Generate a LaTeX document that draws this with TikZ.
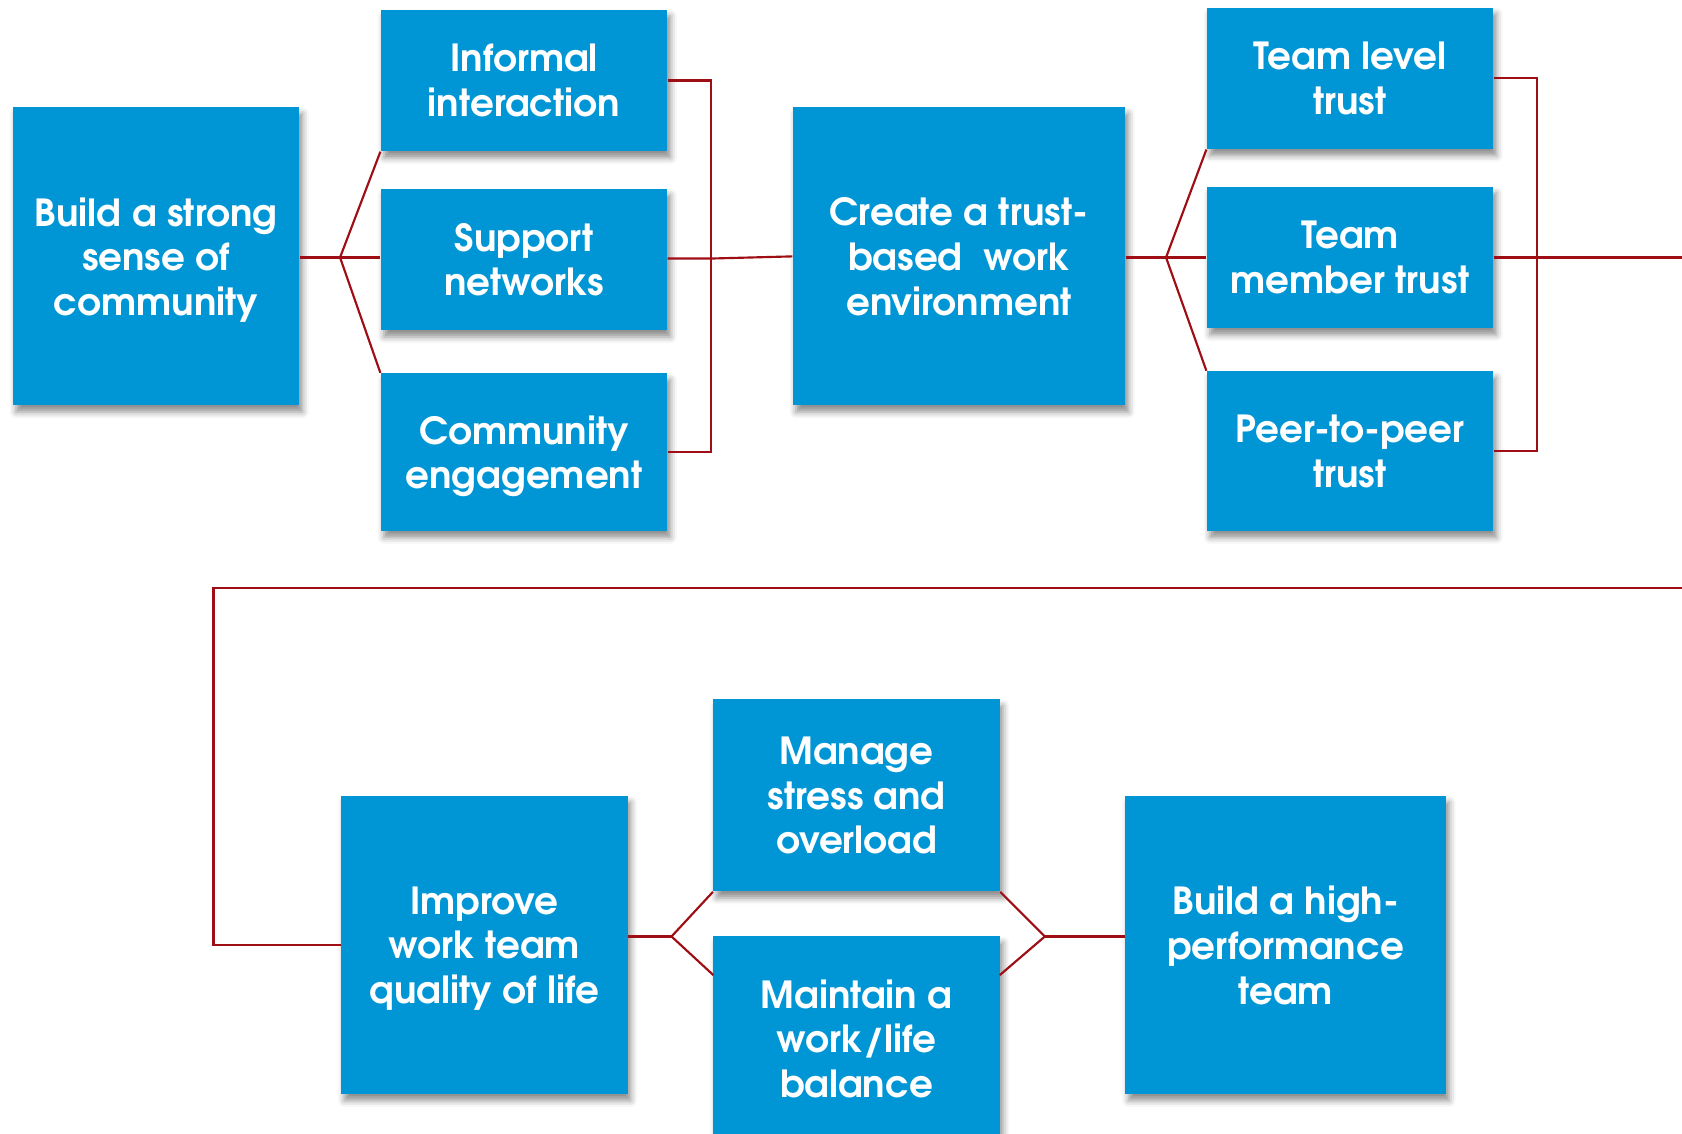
\documentclass[tikz,border=0pt]{standalone}
\usepackage{fontspec}
\setmainfont{TeX Gyre Adventor}
\usetikzlibrary{shadows.blur}
\definecolor{boxblue}{RGB}{0,150,214}
\definecolor{linered}{RGB}{158,14,20}
\tikzset{
  box/.style={fill=boxblue, text=white, align=center, inner sep=0pt, text depth=-2pt,
    font=\fontsize{17.4}{20.8}\selectfont\bfseries,
    blur shadow={shadow xshift=1.5pt, shadow yshift=-3pt, shadow blur radius=3pt, shadow opacity=45}},
  link/.style={draw=linered, line width=1pt}
}
\begin{document}
\begin{tikzpicture}[x=0.5pt, y=-0.5pt]
\useasboundingbox (0,0) rectangle (1568,1057);
\clip (0,0) rectangle (1568,1057);
% top row
\node[box, minimum width=133.5pt, minimum height=139pt] (b1) at (145.5,239) {Build a strong\\sense of\\community};
\node[box, minimum width=133.5pt, minimum height=66pt] (ii) at (488.5,75) {Informal\\interaction};
\node[box, minimum width=133.5pt, minimum height=66pt] (sn) at (488.5,242) {Support\\networks};
\node[box, minimum width=133.5pt, minimum height=73.5pt] (ce) at (488.5,421.5) {Community\\engagement};
\node[box, minimum width=155pt, minimum height=139pt] (ct) at (894,239) {Create a trust-\\based\ \ work\\environment};
\node[box, minimum width=133.5pt, minimum height=66pt] (tl) at (1258.5,73) {Team level\\trust};
\node[box, minimum width=133.5pt, minimum height=66pt] (tm) at (1258.5,240) {Team\\member trust};
\node[box, minimum width=133.5pt, minimum height=74.5pt] (pp) at (1258.5,420.5) {Peer-to-peer\\trust};
% bottom row
\node[box, minimum width=133.5pt, minimum height=139pt] (iq) at (451.5,881) {Improve\\work team\\quality of life};
\node[box, minimum width=133.5pt, minimum height=89.5pt] (ms) at (798.5,741.5) {Manage\\stress and\\overload};
\node[box, minimum width=133.5pt, minimum height=95pt] (mw) at (798.5,968) {Maintain a\\work/life\\balance};
\node[box, minimum width=149.5pt, minimum height=139pt] (hp) at (1198.5,881) {Build a high-\\performance\\team};
% coordinates
\coordinate (f1) at (317,240);
\coordinate (j1) at (663,241);
\coordinate (f2) at (1087,240);
\coordinate (j2) at (1433,240);
\coordinate (o1) at (1600,240);
\coordinate (o2) at (1600,548);
\coordinate (c1) at (199,548);
\coordinate (f3) at (626,873);
\coordinate (m2) at (665,909);
\coordinate (m3) at (932,909);
\coordinate (f4) at (974,873);
% connectors
\draw[link] (b1.east |- f1) -- (f1);
\draw[link] (f1) -- (ii.south west);
\draw[link] (f1) -- (sn.west |- f1);
\draw[link] (f1) -- (ce.north west);
\draw[link] (ii.east) -| (j1) |- (ce.east);
\draw[link] (sn.east |- j1) -- (j1) -- (ct.west);
\draw[link] (ct.east |- f2) -- (f2);
\draw[link] (f2) -- (tl.south west);
\draw[link] (f2) -- (tm.west);
\draw[link] (f2) -- (pp.north west);
\draw[link] (tl.east) -| (j2) |- (pp.east);
\draw[link] (tm.east) -- (j2) -- (o1) -- (o2) -- (c1) |- (iq.west);
\draw[link] (f3 -| iq.east) -- (f3);
\draw[link] (f3) -- (ms.south west);
\draw[link] (f3) -- (m2);
\draw[link] (ms.south east) -- (f4);
\draw[link] (m3) -- (f4);
\draw[link] (f4) -- (f4 -| hp.west);
\end{tikzpicture}
\end{document}
